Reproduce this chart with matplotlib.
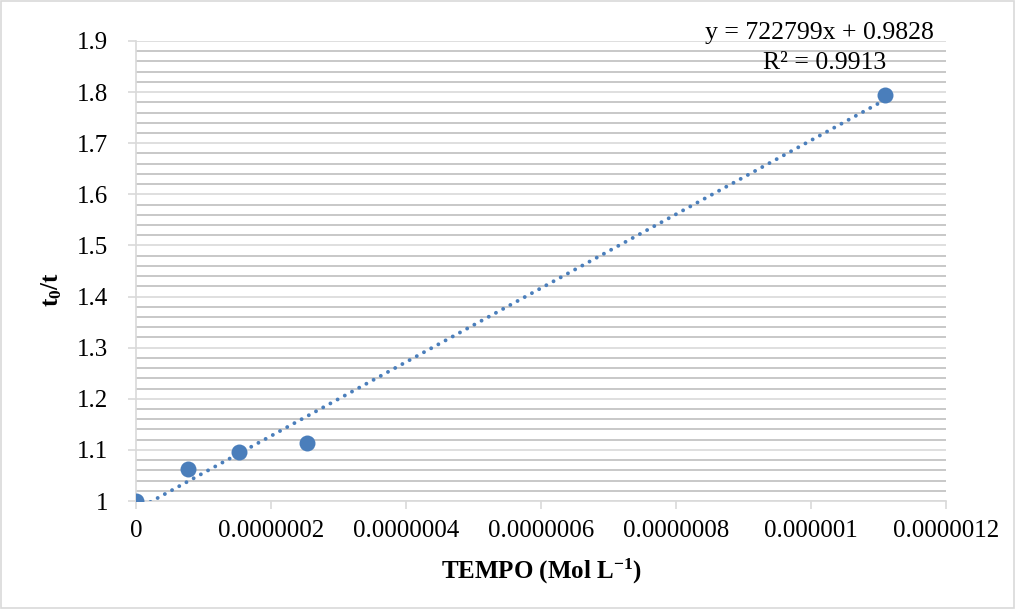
import numpy as np
import matplotlib
matplotlib.use("Agg")
import matplotlib.pyplot as plt
from matplotlib.ticker import MultipleLocator
from matplotlib.patches import Rectangle

# ---- dữ liệu ----
tempo_conc = [0.0, 7.7e-8, 1.53e-7, 2.53e-7, 1.11e-6]
t0_over_t = [1.0, 1.063, 1.096, 1.113, 1.795]

slope = 722799
intercept = 0.9828
r2 = 0.9913

x_ticks = [0, 2e-7, 4e-7, 6e-7, 8e-7, 1e-6, 1.2e-6]
x_tick_labels = ["0", "0.0000002", "0.0000004", "0.0000006",
                 "0.0000008", "0.000001", "0.0000012"]
y_ticks = [1.0, 1.1, 1.2, 1.3, 1.4, 1.5, 1.6, 1.7, 1.8, 1.9]
y_tick_labels = ["1", "1.1", "1.2", "1.3", "1.4", "1.5", "1.6", "1.7", "1.8", "1.9"]

plt.rcParams['font.family'] = ['Liberation Serif', 'DejaVu Serif']
plt.rcParams['mathtext.fontset'] = 'custom'
plt.rcParams['mathtext.rm'] = 'Liberation Serif'
plt.rcParams['mathtext.bf'] = 'Liberation Serif:bold'
plt.rcParams['mathtext.it'] = 'Liberation Serif:italic'

BLUE = '#4a7ebb'
GRID_MAJOR = '#d9d9d9'
GRID_MINOR = '#bfbfbf'

fig = plt.figure(figsize=(10.16, 6.09), dpi=100)
ax = fig.add_axes([0.1339, 0.1773, 0.7972, 0.7554])

# đường xu hướng (tuyến tính, chấm tròn)
xfit = np.array([0.0, max(tempo_conc)])
ax.plot(xfit, slope * xfit + intercept, linestyle=(0, (0.01, 2.1)),
        color=BLUE, linewidth=2.8, dash_capstyle='round', zorder=3)
ax.plot(tempo_conc, t0_over_t, 'o', color=BLUE, markersize=11.5,
        markeredgewidth=0, zorder=4)

ax.set_xlim(0, 1.2e-6)
ax.set_ylim(1.0, 1.9)
ax.set_xticks(x_ticks)
ax.set_xticklabels(x_tick_labels)
ax.set_yticks(y_ticks)
ax.set_yticklabels(y_tick_labels)
ax.yaxis.set_minor_locator(MultipleLocator(0.02))

ax.grid(True, which='major', axis='y', color=GRID_MAJOR, linewidth=1.2)
ax.grid(True, which='minor', axis='y', color=GRID_MINOR, linewidth=1.2)
ax.set_axisbelow(True)

for side in ['top', 'right']:
    ax.spines[side].set_visible(False)
for side in ['left', 'bottom']:
    ax.spines[side].set_color(GRID_MAJOR)
    ax.spines[side].set_linewidth(1.2)

ax.tick_params(axis='both', which='major', labelsize=18, color=GRID_MAJOR,
               length=6, width=1.2)
ax.tick_params(axis='y', which='major', pad=14)
ax.tick_params(axis='x', which='major', pad=8)
ax.tick_params(axis='y', which='minor', length=0)

ax.set_xlabel(r"TEMPO (Mol L$^{\mathbf{-1}}$)", fontsize=18,
              fontweight='bold', labelpad=10)
ax.set_ylabel(r"$\mathbf{t_0/t}$", fontsize=18)
ax.yaxis.set_label_coords(-0.089, 0.459)

fig.text(0.807, 0.946, f"y = {slope}x + {intercept}", fontsize=18.5,
         ha='center', va='center')
fig.text(0.812, 0.897, f"R² = {r2}", fontsize=18.5,
         ha='center', va='center')

# khung viền hình
fig.patches.append(Rectangle((0.001, 0.001), 0.997, 0.997,
                             transform=fig.transFigure, fill=False,
                             edgecolor='#d9d9d9', linewidth=1.2))

fig.savefig("out.png", dpi=100)
